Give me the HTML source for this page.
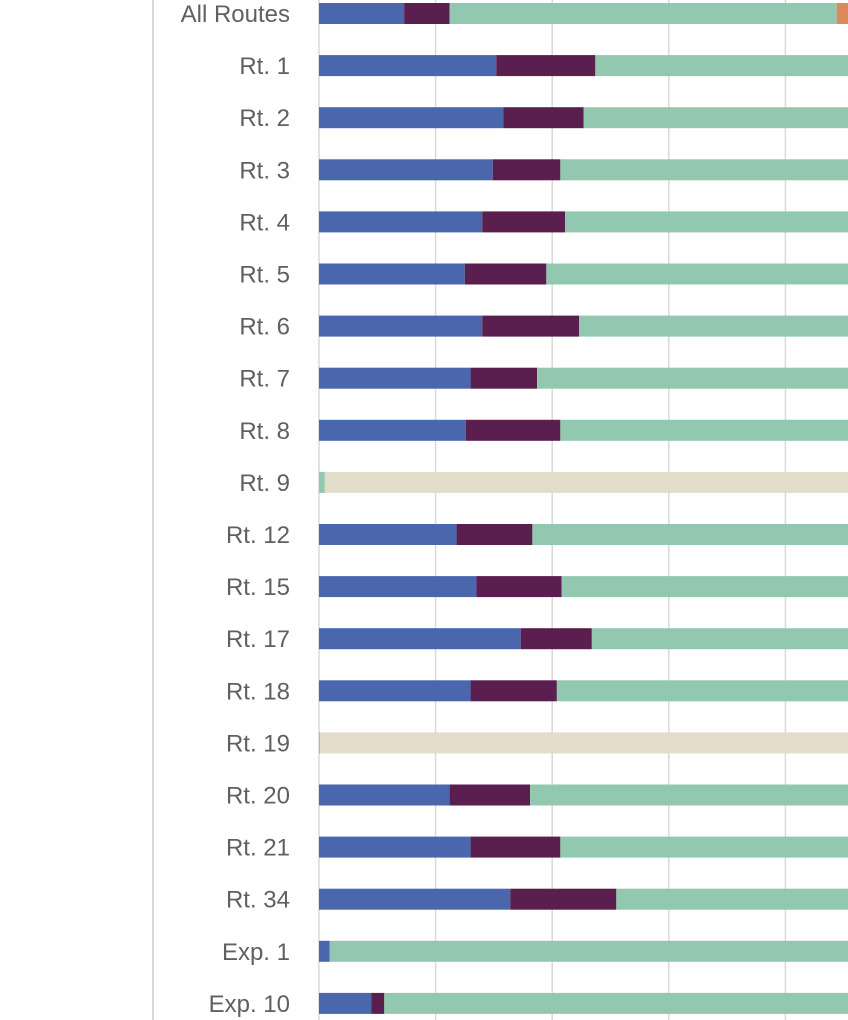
<!DOCTYPE html>
<html><head><meta charset="utf-8"><style>
html,body{margin:0;padding:0;background:#fff;overflow:hidden}
svg{display:block}
text{font-family:"Liberation Sans",sans-serif;font-size:24px;fill:#606060;font-weight:300}
</style></head><body>
<svg id="chart" width="848" height="1020" viewBox="0 0 848 1020">
<line x1="153" y1="0" x2="153" y2="1020" stroke="#d9d9d9" stroke-width="2"/>
<g id="grid"></g><g id="bars"></g><g id="labels"></g>
</svg>
<script>
const categories=["All Routes","Rt. 1","Rt. 2","Rt. 3","Rt. 4","Rt. 5","Rt. 6","Rt. 7","Rt. 8","Rt. 9","Rt. 12","Rt. 15","Rt. 17","Rt. 18","Rt. 19","Rt. 20","Rt. 21","Rt. 34","Exp. 1","Exp. 10"];
const seriesBlue=[7.3,15.2,15.8,14.9,14.0,12.5,14.0,13.0,12.6,0,11.8,13.5,17.3,13.0,0,11.2,13.0,16.4,0.9,4.5];
const seriesPurple=[3.9,8.5,6.9,5.8,7.1,7.0,8.3,5.7,8.1,0,6.5,7.3,6.1,7.4,0,6.9,7.7,9.1,0,1.1];
const seriesGreen=[33.2,76.3,77.3,79.3,78.9,80.5,77.7,81.3,79.3,0.5,81.7,79.2,76.6,79.6,0.1,81.9,79.3,74.5,99.1,94.4];
const seriesOrange=[10,0,0,0,0,0,0,0,0,0,0,0,0,0,0,0,0,0,0,0];
const seriesBeige=[45.6,0,0,0,0,0,0,0,0,99.5,0,0,0,0,99.9,0,0,0,0,0];
const gridTicks=[0,10,20,30,40];
const NS="http://www.w3.org/2000/svg";
const x0=319,unit=11.66,rowPitch=52.1,rowTop=3,barH=21;
const xs=v=>x0+v*unit;
const yRow=i=>rowTop+i*rowPitch;
const grid=document.getElementById('grid'),bars=document.getElementById('bars'),labels=document.getElementById('labels');
gridTicks.forEach(t=>{
  const l=document.createElementNS(NS,'line');
  
  
  l.setAttribute('x1',xs(t));l.setAttribute('x2',xs(t));
  l.setAttribute('y1',0);l.setAttribute('y2',1020);
  l.setAttribute('stroke','#d9d9d9');l.setAttribute('stroke-width','1.5');
  grid.appendChild(l);
});
const series=[[seriesBlue,'#4a66ac','blue'],[seriesPurple,'#5a1f4e','purple'],[seriesGreen,'#93c8b0','green'],[seriesOrange,'#d98c5a','orange'],[seriesBeige,'#e2dcc8','beige']];
categories.forEach((c,i)=>{
  let acc=0;
  series.forEach(([arr,col,nm])=>{
    const v=arr[i];
    if(v>0){
      const r=document.createElementNS(NS,'rect');
      
      
      r.setAttribute('x',xs(acc));r.setAttribute('width',v*unit);
      r.setAttribute('y',yRow(i));r.setAttribute('height',barH);
      r.setAttribute('fill',col);
      bars.appendChild(r);
    }
    acc+=v;
  });
  const t=document.createElementNS(NS,'text');
  
  
  t.setAttribute('x',290);t.setAttribute('y',yRow(i)+19);
  t.setAttribute('text-anchor','end');
  t.textContent=c;
  labels.appendChild(t);
});
</script>
</body></html>
